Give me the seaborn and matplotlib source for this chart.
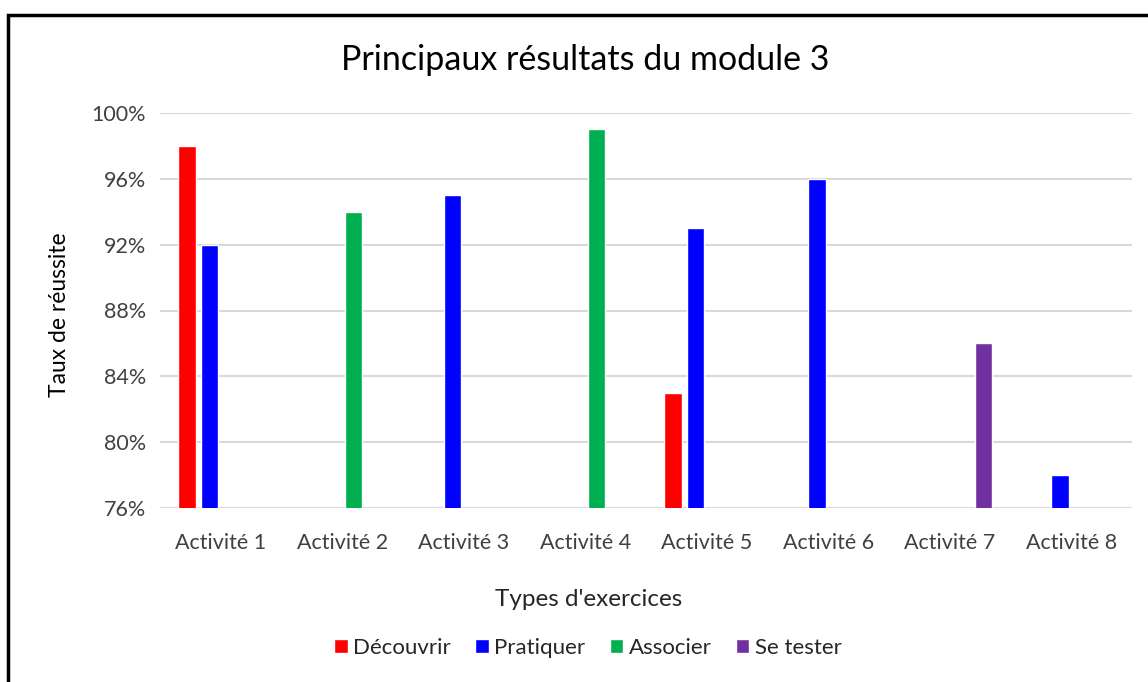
import pandas as pd
import seaborn as sns
from matplotlib import pyplot as plt
from matplotlib.patches import Rectangle

activites = ["Activité 1", "Activité 2", "Activité 3", "Activité 4",
             "Activité 5", "Activité 6", "Activité 7", "Activité 8"]
types = ["Découvrir", "Pratiquer", "Associer", "Se tester"]
couleurs = ["#FF0000", "#0000FF", "#00B050", "#7030A0"]

# one value per bar (activity, type, success rate in %)
bar_activite = ["Activité 1", "Activité 1", "Activité 2", "Activité 3", "Activité 4",
                "Activité 5", "Activité 5", "Activité 6", "Activité 7", "Activité 8"]
bar_type = ["Découvrir", "Pratiquer", "Associer", "Pratiquer", "Associer",
            "Découvrir", "Pratiquer", "Pratiquer", "Se tester", "Pratiquer"]
bar_taux = [98, 92, 94, 95, 99, 83, 93, 96, 86, 78]

yticks = [76, 80, 84, 88, 92, 96, 100]

df = pd.DataFrame({"activite": bar_activite, "type": bar_type, "taux": bar_taux})

sns.set_style("white")
plt.rcParams["font.family"] = ["Lato", "DejaVu Sans"]

fig = plt.figure(figsize=(11.48, 6.82), dpi=100)
ax = fig.add_axes([160 / 1148, 1 - 508 / 682, 972 / 1148, 395 / 682])

sns.barplot(data=df, x="activite", y="taux", hue="type", order=activites,
            hue_order=types, palette=couleurs, width=0.74, gap=0.24,
            saturation=1, ax=ax, legend=True)

ax.set_ylim(76, 100)
ax.set_yticks(yticks)
ax.set_yticklabels([f"{t}%" for t in yticks])
ax.grid(axis="y", color="#D9D9D9", linewidth=1.5)
ax.set_axisbelow(True)
for s in ax.spines.values():
    s.set_visible(False)
ax.tick_params(axis="both", length=0, labelsize=15.5, labelcolor="#404040", pad=10)
ax.tick_params(axis="x", pad=18)

ax.set_xlabel("")
ax.set_ylabel("")
fig.text(589 / 1148, 1 - 600 / 682, "Types d'exercices",
         ha="center", va="center", fontsize=17.5, color="#262626")
fig.text(60 / 1148, 1 - 315 / 682, "Taux de réussite", rotation=90,
         ha="center", va="center", fontsize=16.5, color="#000000")

fig.text(585 / 1148, 1 - 60 / 682, "Principaux résultats du module 3",
         ha="center", va="center", fontsize=24.5, color="#000000")

ax.legend(loc="center", bbox_to_anchor=((588 - 160) / 972, -(648 - 508) / 395),
          ncol=4, frameon=False,
          fontsize=16, handlelength=0.6, handleheight=0.6, handletextpad=0.25,
          columnspacing=1.1, labelcolor="#262626")

fig.patches.append(Rectangle((8 / 1148, -0.1), 1.2, 1 - 15 / 682 + 0.1,
                             transform=fig.transFigure, fill=False,
                             edgecolor="black", linewidth=2.5))

fig.savefig("out.png", dpi=100)
